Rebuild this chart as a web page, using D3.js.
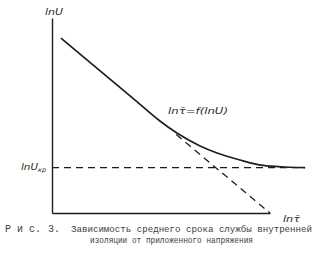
<!DOCTYPE html>
<html>
<head>
<meta charset="utf-8">
<script src="https://cdn.jsdelivr.net/npm/d3@7"></script>
<style>
  html, body { margin: 0; padding: 0; background: #fff; }
  svg { display: block; }
</style>
</head>
<body>
<svg id="chart" width="325" height="256"></svg>
<script>
// Durability curve: ln of mean service life vs ln of applied voltage
const lnTau = [0.41, 2.66, 3.81, 4.95, 5.73, 6.79, 7.57, 8.62, 9.68, 10.69, 11.61];
const lnU   = [8.97, 6.87, 5.79, 4.72, 4.10, 3.44, 3.08, 2.72, 2.44, 2.36, 2.33];

// Straight-line asymptote continued below the bend (dashed)
const tangentTau = [5.70, 10.0];
const tangentU   = [4.02, 0.0];

// Critical voltage level (horizontal dashed line)
const lnUkr = 2.33;
const krTau = [0, 11.61];

const axisMax = 10;

const svg = d3.select("#chart");
const x = d3.scaleLinear().domain([0, axisMax]).range([52, 270]);
const y = d3.scaleLinear().domain([0, axisMax]).range([213, 18]);

const ink = "#1e1e1e";
const textInk = "#3c3c3c";

// Axes without ticks
const xAxis = d3.axisBottom(x).tickValues([]).tickSizeOuter(0);
const yAxis = d3.axisLeft(y).tickValues([]).tickSizeOuter(0);
svg.append("g").attr("transform", `translate(0,${y(0)})`).call(xAxis)
  .select(".domain").attr("stroke", ink).attr("stroke-width", 1.4);
svg.append("g").attr("transform", `translate(${x(0)},0)`).call(yAxis)
  .select(".domain").attr("stroke", ink).attr("stroke-width", 1.4);

const line = d3.line().x(d => x(d[0])).y(d => y(d[1]));

// Horizontal dashed line at ln U_kr
svg.append("path")
  .datum(krTau.map(t => [t, lnUkr]))
  .attr("d", line)
  .attr("fill", "none").attr("stroke", ink).attr("stroke-width", 1.3)
  .attr("stroke-dasharray", "7,5");

// Dashed continuation of the straight part
svg.append("path")
  .datum(tangentTau.map((t, i) => [t, tangentU[i]]))
  .attr("d", line)
  .attr("fill", "none").attr("stroke", ink).attr("stroke-width", 1.3)
  .attr("stroke-dasharray", "7,5");

// Main curve
svg.append("path")
  .datum(lnTau.map((t, i) => [t, lnU[i]]))
  .attr("d", line.curve(d3.curveMonotoneX))
  .attr("fill", "none").attr("stroke", ink).attr("stroke-width", 1.7);

// Axis and curve labels
const lab = svg.append("g")
  .attr("font-family", "'DejaVu Sans', sans-serif")
  .attr("font-style", "italic")
  .attr("fill", "#2a2a2a")
  .attr("font-size", 9.5);

lab.append("text").attr("x", 45).attr("y", 15)
  .attr("textLength", 18).attr("lengthAdjust", "spacingAndGlyphs")
  .text("lnU");

const kr = lab.append("text").attr("x", 21).attr("y", 170);
kr.append("tspan").attr("textLength", 17).attr("lengthAdjust", "spacingAndGlyphs").text("lnU");
kr.append("tspan").attr("font-size", 6.5).attr("dy", 2).text("кр");

lab.append("text").attr("x", 168).attr("y", 114)
  .attr("textLength", 60).attr("lengthAdjust", "spacingAndGlyphs")
  .text("lnτ̄=f(lnU)");
lab.append("text").attr("x", 283).attr("y", 222)
  .attr("textLength", 17).attr("lengthAdjust", "spacingAndGlyphs")
  .text("lnτ̄");

// Caption
const cap = svg.append("g")
  .attr("font-family", "'Liberation Mono', monospace")
  .attr("font-size", 9.2)
  .attr("fill", textInk);

cap.append("text").attr("x", 5).attr("y", 232).attr("font-size", 10).text("Р и с.");
cap.append("text").attr("x", 48).attr("y", 232).attr("font-size", 10).text("3.");
cap.append("text").attr("x", 71).attr("y", 232)
  .attr("textLength", 241).attr("lengthAdjust", "spacingAndGlyphs")
  .text("Зависимость среднего срока службы внутренней");
cap.append("text").attr("x", 90).attr("y", 243)
  .attr("textLength", 163).attr("lengthAdjust", "spacingAndGlyphs")
  .text("изоляции от приложенного напряжения");
</script>
</body>
</html>
